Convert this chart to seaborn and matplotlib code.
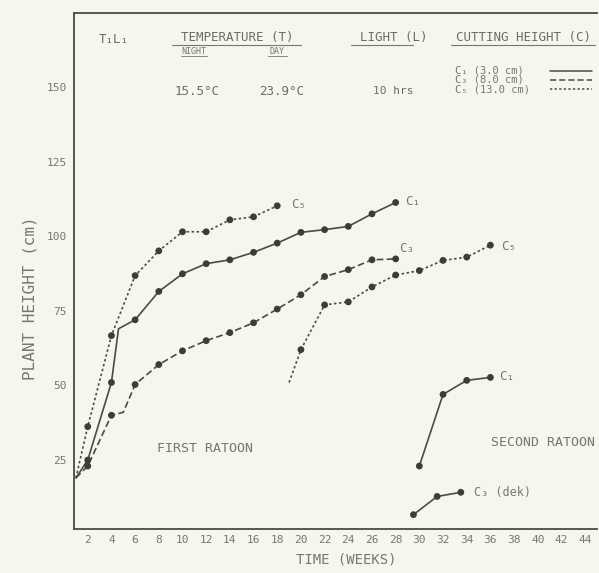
import numpy as np
import pandas as pd
import matplotlib
matplotlib.use("Agg")
import matplotlib.pyplot as plt
import seaborn as sns

# ---- data: plant height (cm) against time (weeks) ----
c1_first_weeks = [1, 2, 4, 4.6, 6, 8, 10, 12, 14, 16, 18, 20, 22, 24, 26, 28]
c1_first_height = [19, 25, 51, 69, 72, 81.5, 87.4, 90.8, 92.1, 94.6, 97.7, 101.3, 102.2, 103.3, 107.5, 111.3]
c1_first_marked = [0, 1, 1, 0, 1, 1, 1, 1, 1, 1, 1, 1, 1, 1, 1, 1]

c3_first_weeks = [1, 2, 4, 5, 6, 8, 10, 12, 14, 16, 18, 20, 22, 24, 26, 28]
c3_first_height = [19, 23, 40, 41, 50.3, 57, 61.6, 65, 67.7, 71, 75.6, 80.4, 86.5, 88.8, 92.1, 92.4]
c3_first_marked = [0, 1, 1, 0, 1, 1, 1, 1, 1, 1, 1, 1, 1, 1, 1, 1]

c5_first_weeks = [1, 2, 4, 6, 8, 10, 12, 14, 16, 18]
c5_first_height = [19, 36.2, 66.7, 86.8, 95.1, 101.5, 101.5, 105.5, 106.5, 110.2]
c5_first_marked = [0, 1, 1, 1, 1, 1, 1, 1, 1, 1]

c5_late_weeks = [19, 20, 22, 24, 26, 28, 30, 32, 34, 36]
c5_late_height = [51, 62, 77, 78, 83, 87, 88.5, 91.9, 93, 97]
c5_late_marked = [0, 1, 1, 1, 1, 1, 1, 1, 1, 1]

c1_second_weeks = [30, 32, 34, 36]
c1_second_height = [23, 47, 51.7, 52.7]
c1_second_marked = [1, 1, 1, 1]

c3_dek_weeks = [29.5, 31.5, 33.5]
c3_dek_height = [6.7, 12.8, 14.2]
c3_dek_marked = [1, 1, 1]

x_ticks = list(range(2, 45, 2))
y_ticks = [25, 50, 75, 100, 125, 150]

INK = "#4a4a48"
TXT = "#77776f"
BG = "#f6f6ee"
MONO = "DejaVu Sans Mono"

sns.set_theme(style="white")
plt.rcParams["font.family"] = [MONO, "DejaVu Sans"]

fig = plt.figure(figsize=(5.99, 5.73), dpi=100, facecolor=BG)
ax = fig.add_axes([74 / 599, 1 - 529 / 573, (597 - 74) / 599, (529 - 13) / 573])
ax.set_facecolor(BG)

DASHED = (0, (4, 2))
DOTTED = (0, (1.5, 1.5))


def draw(weeks, height, marked, dashes):
    df = pd.DataFrame({"week": weeks, "height": height, "marked": marked})
    sns.lineplot(data=df, x="week", y="height", ax=ax, color=INK, lw=1.2,
                 estimator=None, sort=False)
    ax.lines[-1].set_linestyle(dashes)
    sns.scatterplot(data=df[df["marked"] == 1], x="week", y="height", ax=ax,
                    color="#3c3c3a", s=24, edgecolor="none", zorder=3)


draw(c1_first_weeks, c1_first_height, c1_first_marked, "-")
draw(c3_first_weeks, c3_first_height, c3_first_marked, DASHED)
draw(c5_first_weeks, c5_first_height, c5_first_marked, DOTTED)
draw(c5_late_weeks, c5_late_height, c5_late_marked, DOTTED)
draw(c1_second_weeks, c1_second_height, c1_second_marked, "-")
draw(c3_dek_weeks, c3_dek_height, c3_dek_marked, "-")

# curve labels
lab = dict(color=TXT, fontsize=9, va="center", ha="left")
ax.text(19.2, 110.5, "C₅", **lab)
ax.text(28.8, 111.5, "C₁", **lab)
ax.text(28.3, 96.0, "C₃", **lab)
ax.text(36.9, 96.5, "C₅", **lab)
ax.text(36.7, 53.0, "C₁", **lab)
ax.text(34.6, 14.0, "C₃ (dek)", color=TXT, fontsize=8.5, va="center", ha="left")

ax.text(11.9, 28.8, "FIRST RATOON", color=TXT, fontsize=9.5, ha="center", va="center")
ax.text(40.4, 31.0, "SECOND RATOON", color=TXT, fontsize=9.5, ha="center", va="center")

# treatment header
hdr = dict(color="#6c6c66", fontsize=9, ha="center", va="center")
ax.text(4.2, 166, "T₁L₁", **hdr)
ax.text(14.6, 166.5, "TEMPERATURE (T)", **hdr)
ax.plot([9.1, 20.0], [164.0, 164.0], color=TXT, lw=0.8)
ax.text(11.0, 162.0, "NIGHT", color=TXT, fontsize=6, ha="center", va="center")
ax.plot([9.9, 12.1], [160.5, 160.5], color=TXT, lw=0.6)
ax.text(18.0, 162.0, "DAY", color=TXT, fontsize=6, ha="center", va="center")
ax.plot([17.2, 18.8], [160.5, 160.5], color=TXT, lw=0.6)
ax.text(11.2, 148.5, "15.5°C", **hdr)
ax.text(18.4, 148.5, "23.9°C", **hdr)
ax.text(27.8, 166.5, "LIGHT (L)", **hdr)
ax.plot([24.2, 29.5], [164.0, 164.0], color=TXT, lw=0.8)
ax.text(27.8, 148.5, "10 hrs", color="#6c6c66", fontsize=8, ha="center", va="center")
ax.text(38.8, 166.5, "CUTTING HEIGHT (C)", **hdr)
ax.plot([32.7, 44.8], [164.0, 164.0], color=TXT, lw=0.8)
for yy, txt, ls in [(155.5, "C₁ (3.0 cm)", "-"),
                    (152.4, "C₃ (8.0 cm)", DASHED),
                    (149.2, "C₅ (13.0 cm)", DOTTED)]:
    ax.text(33.0, yy, txt, color=TXT, fontsize=7.5, ha="left", va="center")
    ax.plot([41.0, 44.6], [yy, yy], color=INK, lw=1.1, linestyle=ls)

ax.set_xlim(0.84, 45.0)
ax.set_ylim(1.9, 174.8)
ax.set_xticks(x_ticks)
ax.set_yticks(y_ticks)
ax.tick_params(axis="both", direction="in", length=5, width=0.8, color=INK,
               labelsize=8, labelcolor=TXT)
ax.tick_params(axis="y", pad=5)
ax.tick_params(axis="x", pad=4)
ax.set_xlabel("TIME (WEEKS)", color=TXT, fontsize=10)
ax.xaxis.set_label_coords((346 - 74) / (597 - 74), -0.045)
ax.set_ylabel("PLANT HEIGHT (cm)", color=TXT, fontsize=11.5)
ax.yaxis.set_label_coords(-(74 - 38) / (597 - 74), (529 - 298) / (529 - 13))

for side in ["left", "bottom", "top"]:
    ax.spines[side].set_visible(True)
    ax.spines[side].set_color(INK)
    ax.spines[side].set_linewidth(1.3)
ax.spines["right"].set_visible(False)

fig.savefig("out.png", dpi=100, facecolor=BG)
